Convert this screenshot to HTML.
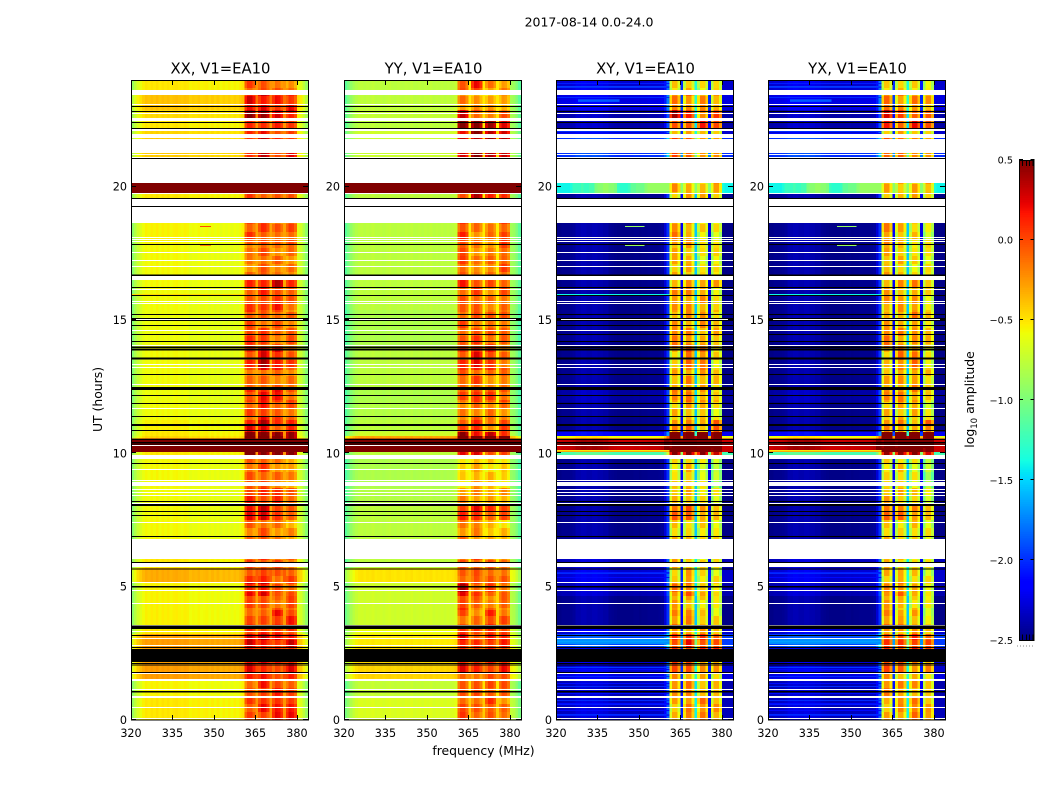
<!DOCTYPE html>
<html lang="en">
<head>
<meta charset="utf-8">
<title>2017-08-14 0.0-24.0</title>
<style>
html,body{margin:0;padding:0;background:#fff;}
svg{display:block;font-family:"DejaVu Sans","Liberation Sans",sans-serif;fill:#000;}
</style>
</head>
<body>
<svg id="chart" xmlns="http://www.w3.org/2000/svg" width="1050" height="800" viewBox="0 0 1050 800">
  <text x="589" y="26.5" font-size="12.5" text-anchor="middle">2017-08-14 0.0-24.0</text>
  <text x="483.5" y="755" font-size="12.4" text-anchor="middle">frequency (MHz)</text>
  <text transform="translate(102,399.5) rotate(-90)" font-size="12.4" text-anchor="middle">UT (hours)</text>
  <text transform="translate(974,399.5) rotate(-90)" font-size="12.4" text-anchor="middle">log<tspan font-size="8.6" dy="3">10</tspan><tspan dy="-3"> amplitude</tspan></text>
  <g id="panels"></g>
  <g id="colorbar"></g>
</svg>
<script>
/* ---------- axis values ---------- */
const panelTitles = ["XX, V1=EA10", "YY, V1=EA10", "XY, V1=EA10", "YX, V1=EA10"];
const xTickLabels = [320, 335, 350, 365, 380];
const yTickLabels = [0, 5, 10, 15, 20];
const colorbarTickLabels = [-2.5, -2.0, -1.5, -1.0, -0.5, 0.0, 0.5];
const freqMinMHz = 320;
const freqMaxMHz = 384;
const hoursPerSample = 0.0375;
const totalSamples = 640;
const colorMin = -2.5;
const colorMax = 0.5;

/* ---------- spectral windows (channel numbers, 1 MHz each) ---------- */
const patchChannels = [[41, 44], [46, 49], [51, 54], [56, 59]];

/* ---------- time bands: first sample of each band, bottom to top ---------- */
const bandStartSample = [0, 22, 39, 47, 58, 72, 86, 92, 110, 124, 137, 152, 181, 200, 216, 232, 262, 268, 274, 281.5, 284, 288, 300, 318, 332, 350, 372, 392, 410, 432, 445, 476, 497, 522, 527, 537, 582, 592, 602, 610, 625];
const noisyBandIndex = 34;

/* ---------- log10 amplitude of the band-edge background per band ---------- */
const xxBase = [-.54, -.58, -.3, -.3, -.3, -.3, -.54, -.57, -.58, -.58, -.35, -.54, -.6, -.6, -.61, -.6, -.54, 1, 1, -.48, -.54, -.57, -.61, -.62, -.61, -.61, -.62, -.62, -.61, -.6, -.6, -.58, -.57, -.54, 1, -.45, -.48, -.54, -.5, -.42, -.54];
const yyBase = [-.66, -.74, -.45, -.45, -.45, -.52, -.6, -.7, -.7, -.7, -.5, -.77, -.77, -.77, -.8, -.82, -.77, 1, 1, -.3, -.7, -.77, -.8, -.82, -.77, -.77, -.82, -.82, -.77, -.77, -.77, -.77, -.77, -.77, 1, -.72, -.7, -.77, -.74, -.76, -.77];
const xyBase = [-2.35, -2.38, -2.25, -2.3, -2.3, -1.95, -2.3, -2.48, -2.48, -2.38, -2.3, -2.35, -2.48, -2.48, -2.48, -2.48, -1.2, .3, .3, -.6, -2.2, -2.48, -2.48, -2.42, -2.48, -2.48, -2.48, -2.48, -2.48, -2.48, -2.48, -2.48, -2.48, -2.48, -.95, -2.0, -2.3, -2.4, -2.4, -2.25, -2.3];

/* ---------- log10 amplitude inside the four bright windows per band ---------- */
const xxPatch = [[-.05,.05,.1,.1],[-.05,.05,0,-.1],[.05,.1,-.1,.15],[.2,.15,.02,.1],[0,0,0,0],[.3,.2,.1,.2],[0,0,0,0],[-.05,-.05,.05,.05],[-.05,-.1,-.15,-.05],[.15,.2,-.1,-.1],[-.05,0,-.1,-.1],[-.02,-.05,-.1,-.15],[-.15,-.1,-.25,-.3],[.2,.2,.05,-.15],[.02,.05,.02,-.1],[-.1,-.08,-.2,-.3],[.5,.5,.4,.4],[1,1,1,1],[1,1,1,1],[.6,.6,.5,.5],[.5,.5,.4,.5],[.15,.25,-.05,.05],[-.1,.08,-.08,-.15],[.02,.1,.08,-.1],[-.15,-.12,-.15,-.2],[.02,.25,.08,-.05],[.02,-.05,-.15,-.1],[-.02,-.1,-.1,-.2],[-.05,0,.05,-.1],[.05,.15,.25,-.02],[-.2,-.12,-.2,-.2],[-.05,-.02,-.15,-.1],[-.1,-.1,-.1,-.1],[-.05,-.05,-.15,-.1],[1,1,1,1],[.1,.25,.05,.1],[.05,.1,0,-.05],[.1,.1,0,0],[.35,.3,.25,.15],[.2,.2,.05,.05],[-.05,-.1,-.1,-.2]];
const yyPatch = [[-.05,-.1,-.05,-.2],[-.1,-.1,-.05,-.1],[-.05,-.1,-.1,0],[.1,0,.05,.05],[0,0,0,0],[.15,-.05,.1,.05],[0,0,0,0],[-.1,-.2,0,-.1],[0,-.15,-.2,-.15],[.25,-.05,-.05,-.15],[-.1,-.1,-.1,-.1],[-.1,-.1,-.15,-.25],[-.2,-.25,-.4,-.45],[.05,.1,-.05,-.05],[-.3,-.25,-.3,-.35],[-.5,-.35,-.45,-.5],[.1,.1,-.1,-.1],[1,1,1,1],[1,1,1,1],[.8,.8,.8,.8],[.4,.2,.2,.15],[-.05,0,-.2,-.05],[-.2,-.15,-.2,-.25],[-.1,0,-.05,-.1],[-.1,-.1,-.2,-.2],[0,.15,0,-.15],[-.1,-.05,-.1,-.15],[-.1,-.1,-.15,-.15],[-.1,-.1,-.2,-.1],[.05,0,-.1,-.15],[-.05,-.25,-.2,-.1],[0,-.2,-.2,-.05],[-.1,-.1,-.1,-.1],[0,.35,.15,-.05],[1,1,1,1],[.3,.35,.3,.25],[.25,.4,.35,.25],[.4,.4,.35,.25],[.25,-.05,-.15,-.15],[-.25,-.3,-.35,-.35],[-.02,.05,-.25,-.25]];
const xyPatch = [[-.4,-.25,-.25,-.35],[-.25,-.25,-.4,-.45],[-.35,-.3,-.4,-.5],[0,-.1,-.3,-.3],[0,0,0,0],[0,.05,0,-.05],[-.35,-.35,-.35,-.45],[-.25,-.25,-.45,-.55],[-.35,-.4,-.55,-.6],[-.25,-.15,-.45,-.55],[-.45,-.35,-.55,-.6],[-.35,-.45,-.55,-.55],[-.45,-.5,-.55,-.55],[-.15,-.15,-.3,-.45],[-.4,-.35,-.55,-.65],[-.55,-.45,-.65,-.8],[.4,.4,.4,.3],[.8,.8,.8,.8],[.8,.8,.8,.8],[.8,.8,.8,.8],[.8,.8,.8,.8],[-.25,-.2,-.4,-.15],[-.45,-.35,-.45,-.6],[-.25,-.2,-.35,-.45],[-.4,-.3,-.35,-.45],[-.45,-.15,-.25,-.55],[-.2,-.25,-.35,-.4],[-.35,-.3,-.3,-.45],[-.3,-.3,-.35,-.55],[-.35,-.25,-.3,-.4],[-.4,-.4,-.6,-.55],[-.25,-.35,-.55,-.6],[-.45,-.45,-.45,-.45],[-.45,-.35,-.4,-.45],[-.35,-.4,-.45,-.35],[-.05,-.15,-.25,-.35],[-.45,-.35,-.45,-.55],[0,0,.05,0],[.25,0,-.2,-.1],[-.2,-.25,-.3,-.35],[-.5,-.45,-.55,-.55]];
const yxPatchShift = [0, -.05, .05, -.03];

/* ---------- ripple of window brightness along time, one value per 8 samples ---------- */
const patchRipple = [.05,-.06,.08,-.02,-.1,.06,.02,-.08,.1,-.03,-.06,.08,.03,-.1,.05,.02,-.08,.1,-.05,.03,-.08,.06,.02,-.1,.08,-.02,-.06,.1,-.05,.02,.06,-.08,.03,.08,-.1,.02,.05,-.06,.1,-.03,-.08,.05,.02,-.06,.08,-.1,.03,.06,-.05,.02,-.08,.1,-.02,-.06,.05,.08,-.1,.02,.03,-.05,.1,-.08,.02,.05,-.06,.08,-.03,-.1,.06,.02,-.05,.1,-.08,.03,-.02,.08,-.06,.05,-.1,.06];
const rippleStepSamples = 8;

/* ---------- channel response relative to the band level, 64 channels ---------- */
const xxChannelOffset = [-.35,-.22,-.12,-.06,0,.04,.02,.05,.03,.06,.02,.05,.03,.05,.02,.04,.05,.03,.02,.04,.03,-.01,.01,0,.02,-.01,0,.01,-.02,.01,-.02,.01,-.03,0,-.02,0,-.03,0,-.02,.01,.05,-.08,.06,.06,-.06,.3,-.06,.08,.06,-.06,.3,-.05,.08,.06,-.06,.3,-.06,.08,.05,-.08,-.05,-.1,-.22,-.35];
const yyChannelOffset = [-.35,-.25,-.15,-.08,-.03,0,.01,-.01,.01,0,.02,-.01,0,.01,-.01,.01,.02,0,-.01,.01,0,-.01,.01,0,.02,-.01,0,.01,-.01,.01,0,.02,-.01,.01,0,.01,-.01,.01,0,.01,.04,-.08,.06,.06,-.08,.25,-.08,.08,.06,-.08,.25,-.08,.08,.06,-.08,.25,-.08,.08,.05,-.08,-.08,-.12,-.22,-.35];
const xyChannelOffset = [0,0,.02,.02,.02,.03,.05,.1,.1,.12,.12,.1,.1,.12,.12,.1,.1,.08,.08,.03,.02,.01,0,0,0,0,0,0,.01,.01,0,.01,.01,.02,.02,.02,.02,.03,.05,.2,.5,-.28,.08,.08,-.2,.3,-.28,.08,.08,-.2,.95,-.28,.08,.08,-.2,.25,-.28,.08,.08,-.2,0,0,0,0];
const xyNoisyOffset = [-.45,-.45,-.45,-.45,-.45,-.4,-.3,-.3,-.3,-.25,-.3,-.3,-.25,-.25,-.05,0,0,.05,.05,0,0,-.05,-.3,-.35,-.35,-.35,-.3,-.15,-.15,-.1,-.1,-.1,0,.05,.05,.05,.05,.05,.05,.05,.05,0,0,0,0,0,0,0,0,0,0,0,0,0,0,0,0,0,0,0,-.4,-.45,-.45,-.45];

/* ---------- flagged samples: [first, last] ---------- */
const blankedSamples = [[625,630],[615,616],[606,607],[599,602],[589,591],[582,586],[567,581],[565,566],[562,563],[537,561],[526,527],[514,521],[497,513],[482,483],[480,481],[478,479],[467,468],[459,460],[453,454],[440,444],[430,431],[418,419],[416,417],[400,401],[389,390],[374,375],[355,356],[352,353],[335,336],[311,312],[274,275],[261,265],[250,251],[239,240],[234,238],[230,231],[227,228],[224,225],[216,217],[197,198],[161,181],[153,157],[137,138],[129,130],[116,117],[94,95],[88,89],[81,82],[74,75],[46,47],[39,41],[30,31],[22,24],[12,13],[1,2]];
const droppedSamples = [[613,614],[608,609],[597,598],[591,592],[561,562],[521,522],[513,514],[475,476],[444,445.5],[432,433],[424,425],[405,406],[401,402],[399,400],[394,395],[385,386],[378,379],[372,373.5],[369.5,371.5],[360.5,362.5],[345,346],[330,333],[324,325],[316,317],[303,304],[294,296],[289,290],[280,281],[277,278],[275.5,276.5],[256,257],[218,219],[214,216],[208,209],[204,205],[183,184],[157,158],[150.5,151.5],[132.5,134],[91,94.5],[84,85],[72,73],[58,71],[56,57],[54.5,55.5],[47,48],[27.5,29]];

/* ---------- interference streaks: panel, sample, first channel, last channel, value ---------- */
const streaks = [[0,493,25,28,0],[0,474,25,28,-.2],[0,425,0,40,-.45]];
/* cross-hand streaks, shared by XY and YX: sample, first channel, last channel, value */
const crossStreaks = [[425,0,40,-1.4],[493,25,31,-.9],[474,25,31,-.9],[268,0,40,-.3],[269,0,40,-.5],[4,0,40,-2.05],[5,0,40,-2.0],[9,0,40,-2.1],[15,0,40,-2.05],[16,0,40,-2.1],[19,0,40,-2.0],[26,0,40,-2.1],[33,0,40,-2.0],[36,0,40,-2.1],[43,0,40,-2.0],[50,0,40,-2.1],[52,0,40,-1.95],[76,0,40,-1.7],[77,0,40,-1.7],[78,0,40,-1.65],[79,0,40,-1.7],[80,0,40,-1.7],[83,0,40,-1.85],[628,0,40,-2.0],[632,0,40,-2.0],[633,0,40,-1.95],[636,0,40,-2.05],[618,8,22,-1.9],[619,8,22,-1.85],[620,8,22,-1.95],[622,0,40,-2.0],[588,0,40,-2.0],[586,0,40,-2.1],[146,0,40,-2.0],[147,0,40,-2.05],[142,0,40,-2.1]];

/* ---------- layout & scales ---------- */
const NS = "http://www.w3.org/2000/svg";
const panelLefts = [131, 344, 556, 768];
const panelWidth = 177;
const plotTop = 80;
const plotBottom = 720;
const barLeft = 1019, barRight = 1034.5, barTop = 160, barBottom = 640.5;
const maxHour = totalSamples * hoursPerSample;

function xScale(mhz, left) { return left + (mhz - freqMinMHz) / (freqMaxMHz - freqMinMHz) * panelWidth; }
function yScale(hour) { return plotBottom - hour / maxHour * (plotBottom - plotTop); }
function sampleY(sample) { return yScale(sample * hoursPerSample); }
function barY(value) { return barBottom - (value - colorMin) / (colorMax - colorMin) * (barBottom - barTop); }

function interp(stops, t) {
  for (let i = 1; i < stops.length; i++) {
    if (t <= stops[i][0]) {
      const a = stops[i - 1], b = stops[i];
      return a[1] + (b[1] - a[1]) * (t - a[0]) / (b[0] - a[0]);
    }
  }
  return stops[stops.length - 1][1];
}
const jetR = [[0,0],[.35,0],[.66,1],[.89,1],[1,.5]];
const jetG = [[0,0],[.125,0],[.375,1],[.64,1],[.91,0],[1,0]];
const jetB = [[0,.5],[.11,1],[.34,1],[.65,0],[1,0]];
function colorOf(value) {
  const t = Math.max(0, Math.min(1, (value - colorMin) / (colorMax - colorMin)));
  const ch = s => Math.round(255 * interp(s, t));
  return "rgb(" + ch(jetR) + "," + ch(jetG) + "," + ch(jetB) + ")";
}
function make(tag, attrs, parent) {
  const el = document.createElementNS(NS, tag);
  for (const k in attrs) el.setAttribute(k, attrs[k]);
  parent.appendChild(el);
  return el;
}
function patchIndexOf(ch) {
  for (let k = 0; k < patchChannels.length; k++) {
    if (ch >= patchChannels[k][0] && ch <= patchChannels[k][1]) return k;
  }
  return -1;
}
function cellValue(panel, band, ch) {
  const base = panel === 0 ? xxBase : panel === 1 ? yyBase : xyBase;
  const patch = panel === 0 ? xxPatch : panel === 1 ? yyPatch : xyPatch;
  const offset = panel === 0 ? xxChannelOffset : panel === 1 ? yyChannelOffset : xyChannelOffset;
  const k = patchIndexOf(ch);
  if (k >= 0) {
    const shift = panel === 3 ? yxPatchShift[k] : 0;
    return patch[band][k] + offset[ch] + shift;
  }
  if (panel >= 2 && band === noisyBandIndex) return base[band] + xyNoisyOffset[ch];
  return base[band] + offset[ch];
}
function rippleValue(panel, sample, k) {
  const step = Math.floor(sample / rippleStepSamples);
  const idx = (step + k * 7 + panel * 11) % patchRipple.length;
  return patchRipple[idx];
}

/* ---------- draw panels ---------- */
const panelsRoot = document.getElementById("panels");
panelTitles.forEach(function (title, p) {
  const left = panelLefts[p];
  const g = make("g", {}, panelsRoot);
  
  

  const cells = make("g", { "shape-rendering": "crispEdges" }, g);
  
  
  const channelCount = freqMaxMHz - freqMinMHz;
  bandStartSample.forEach(function (start, b) {
    const end = b + 1 < bandStartSample.length ? bandStartSample[b + 1] : totalSamples;
    for (let ch = 0; ch < channelCount; ch++) {
      const x0 = xScale(freqMinMHz + ch, left), x1 = xScale(freqMinMHz + ch + 1, left);
      const k = patchIndexOf(ch);
      let from = start;
      while (from < end) {
        let to = end;
        let value = cellValue(p, b, ch);
        if (k >= 0) {
          to = Math.min(end, (Math.floor(from / rippleStepSamples) + 1) * rippleStepSamples);
          value += rippleValue(p, from, k);
        }
        const y0 = sampleY(to), y1 = sampleY(from);
        const rect = make("rect", { x: x0, y: y0, width: x1 - x0, height: y1 - y0, fill: colorOf(value) }, cells);
        
        
        from = to;
      }
    }
  });

  const panelStreaks = streaks.filter(function (s) { return s[0] === p; }).map(function (s) { return s.slice(1); });
  const activeStreaks = p >= 2 ? crossStreaks : panelStreaks;
  activeStreaks.forEach(function (s) {
    const x0 = xScale(freqMinMHz + s[1], left), x1 = xScale(freqMinMHz + s[2] + 1, left);
    const rect = make("rect", { x: x0, y: sampleY(s[0] + 1), width: x1 - x0, height: sampleY(s[0]) - sampleY(s[0] + 1), fill: colorOf(s[3]) }, cells);
    
    
  });

  blankedSamples.forEach(function (r) {
    const rect = make("rect", { x: left, y: sampleY(r[1]), width: panelWidth, height: sampleY(r[0]) - sampleY(r[1]), fill: "#fff" }, cells);
    
    
  });
  droppedSamples.forEach(function (r) {
    const rect = make("rect", { x: left, y: sampleY(r[1]), width: panelWidth, height: sampleY(r[0]) - sampleY(r[1]), fill: "#000" }, cells);
    
    
  });

  const frame = make("rect", { x: left + .5, y: plotTop + .5, width: panelWidth, height: plotBottom - plotTop - .5, fill: "none", stroke: "#000", "stroke-width": 1 }, g);
  
  

  const titleEl = make("text", { x: left + panelWidth / 2 + 1, y: 73.5, "font-size": 14.8, "text-anchor": "middle" }, g);
  titleEl.textContent = title;
  
  

  xTickLabels.forEach(function (v) {
    const x = Math.round(xScale(v, left)) + .5;
    const bottomTick = make("line", { x1: x, x2: x, y1: plotBottom, y2: plotBottom - 5, stroke: "#000" }, g);
    
    
    const topTick = make("line", { x1: x, x2: x, y1: plotTop, y2: plotTop + 5, stroke: "#000" }, g);
    
    
    const label = make("text", { x: xScale(v, left), y: 737, "font-size": 11.2, "text-anchor": "middle" }, g);
    label.textContent = String(v);
    
    
  });
  yTickLabels.forEach(function (v) {
    const y = Math.round(yScale(v)) - .5;
    const leftTick = make("line", { x1: left, x2: left + 5, y1: y, y2: y, stroke: "#000" }, g);
    
    
    const rightTick = make("line", { x1: left + panelWidth, x2: left + panelWidth - 5, y1: y, y2: y, stroke: "#000" }, g);
    
    
    const label = make("text", { x: left - 4, y: yScale(v) + 4, "font-size": 11.2, "text-anchor": "end" }, g);
    label.textContent = String(v);
    
    
  });
});

/* ---------- draw colorbar ---------- */
const barRoot = document.getElementById("colorbar");
const barGradient = make("g", { "shape-rendering": "crispEdges" }, barRoot);


const barLevels = 256;
for (let i = 0; i < barLevels; i++) {
  const v0 = colorMin + (colorMax - colorMin) * i / barLevels;
  const v1 = colorMin + (colorMax - colorMin) * (i + 1) / barLevels;
  const rect = make("rect", { x: barLeft, y: barY(v1), width: barRight - barLeft, height: barY(v0) - barY(v1) + .5, fill: colorOf((v0 + v1) / 2) }, barGradient);
  
  
}
const barFrame = make("rect", { x: barLeft + .5, y: barTop + .5, width: barRight - barLeft - 1, height: barBottom - barTop - .5, fill: "none", stroke: "#000" }, barRoot);


colorbarTickLabels.forEach(function (v) {
  const y = Math.round(barY(v)) - .5;
  const tickL = make("line", { x1: barLeft, x2: barLeft + 4, y1: y, y2: y, stroke: "#000" }, barRoot);
  
  
  const tickR = make("line", { x1: barRight, x2: barRight - 4, y1: y, y2: y, stroke: "#000" }, barRoot);
  
  
  const label = make("text", { x: 1013, y: barY(v) + 3.5, "font-size": 9.7, "text-anchor": "end" }, barRoot);
  label.textContent = v.toFixed(1).replace("-", "\u2212");
  
  
});
const barMinorX = [1022.5, 1026.5, 1029.5, 1033];
barMinorX.forEach(function (x) {
  const top = make("line", { x1: x, x2: x, y1: barTop, y2: barTop + 6, stroke: "#000" }, barRoot);
  
  
  const bottom = make("line", { x1: x, x2: x, y1: barBottom, y2: barBottom - 6, stroke: "#000" }, barRoot);
  
  
});
const dots = make("line", { x1: 1017, x2: 1035, y1: 646, y2: 646, stroke: "#888", "stroke-width": 1, "stroke-dasharray": "1 2" }, barRoot);


</script>
</body>
</html>
